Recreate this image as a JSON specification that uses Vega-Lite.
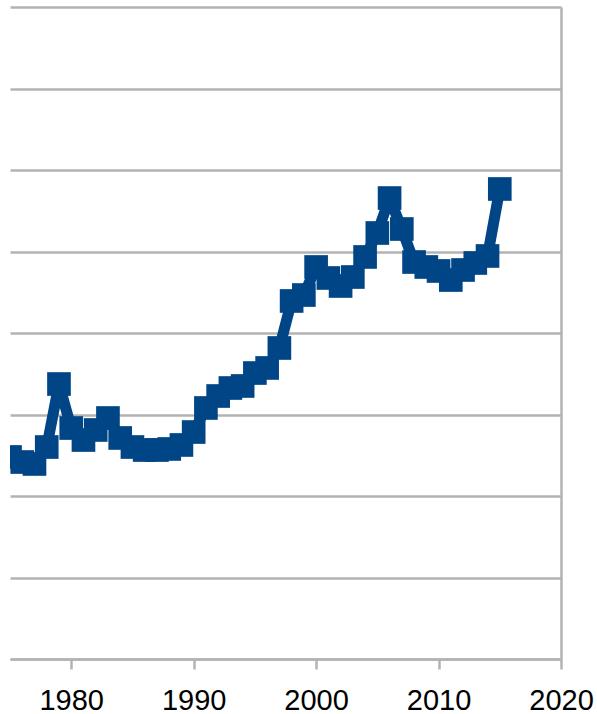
{
  "$schema": "https://vega.github.io/schema/vega-lite/v6.json",
  "autosize": "none",
  "width": 551,
  "height": 652,
  "padding": {"left": 10, "top": 7, "right": 36, "bottom": 55},
  "background": "white",
  "config": {"view": {"stroke": null}},
  "data": {"values": [
    {"year": 1975, "value": 2.479},
    {"year": 1976, "value": 2.417},
    {"year": 1977, "value": 2.393},
    {"year": 1978, "value": 2.601},
    {"year": 1979, "value": 3.374},
    {"year": 1980, "value": 2.834},
    {"year": 1981, "value": 2.687},
    {"year": 1982, "value": 2.810},
    {"year": 1983, "value": 2.957},
    {"year": 1984, "value": 2.712},
    {"year": 1985, "value": 2.601},
    {"year": 1986, "value": 2.564},
    {"year": 1987, "value": 2.564},
    {"year": 1988, "value": 2.577},
    {"year": 1989, "value": 2.626},
    {"year": 1990, "value": 2.785},
    {"year": 1991, "value": 3.080},
    {"year": 1992, "value": 3.227},
    {"year": 1993, "value": 3.325},
    {"year": 1994, "value": 3.350},
    {"year": 1995, "value": 3.509},
    {"year": 1996, "value": 3.571},
    {"year": 1997, "value": 3.816},
    {"year": 1998, "value": 4.393},
    {"year": 1999, "value": 4.466},
    {"year": 2000, "value": 4.810},
    {"year": 2001, "value": 4.675},
    {"year": 2002, "value": 4.577},
    {"year": 2003, "value": 4.687},
    {"year": 2004, "value": 4.933},
    {"year": 2005, "value": 5.227},
    {"year": 2006, "value": 5.656},
    {"year": 2007, "value": 5.276},
    {"year": 2008, "value": 4.871},
    {"year": 2009, "value": 4.810},
    {"year": 2010, "value": 4.761},
    {"year": 2011, "value": 4.650},
    {"year": 2012, "value": 4.773},
    {"year": 2013, "value": 4.859},
    {"year": 2014, "value": 4.945},
    {"year": 2015, "value": 5.767}
  ]},
  "encoding": {
    "x": {
      "field": "year", "type": "quantitative",
      "scale": {"domain": [1975, 2020], "nice": false, "zero": false},
      "axis": {
        "title": null,
        "values": [1980, 1990, 2000, 2010, 2020],
        "format": "d",
        "domainColor": "#b3b3b3", "domainWidth": 2.5,
        "tickColor": "#b3b3b3", "tickWidth": 2.5, "tickSize": 10,
        "labelFont": "Liberation Sans", "labelFontSize": 29, "labelColor": "#000000",
        "labelPadding": 17, "labelFlush": false, "labelOverlap": false, "labelBound": false,
        "grid": true, "gridColor": "#b3b3b3", "gridWidth": 2.5,
        "gridOpacity": {"condition": {"test": "datum.value == 2020", "value": 1}, "value": 0}
      }
    },
    "y": {
      "field": "value", "type": "quantitative",
      "scale": {"domain": [0, 8], "nice": false},
      "axis": {
        "title": null, "labels": false, "ticks": false, "domain": false,
        "values": [0, 1, 2, 3, 4, 5, 6, 7, 8],
        "grid": true, "gridColor": "#b3b3b3", "gridWidth": 2.3
      }
    }
  },
  "layer": [
    {"mark": {"type": "line", "color": "#004586", "strokeWidth": 11, "strokeJoin": "bevel", "clip": true}},
    {"mark": {"type": "point", "shape": "square", "filled": true, "size": 560, "color": "#004586", "opacity": 1, "clip": true}}
  ]
}
